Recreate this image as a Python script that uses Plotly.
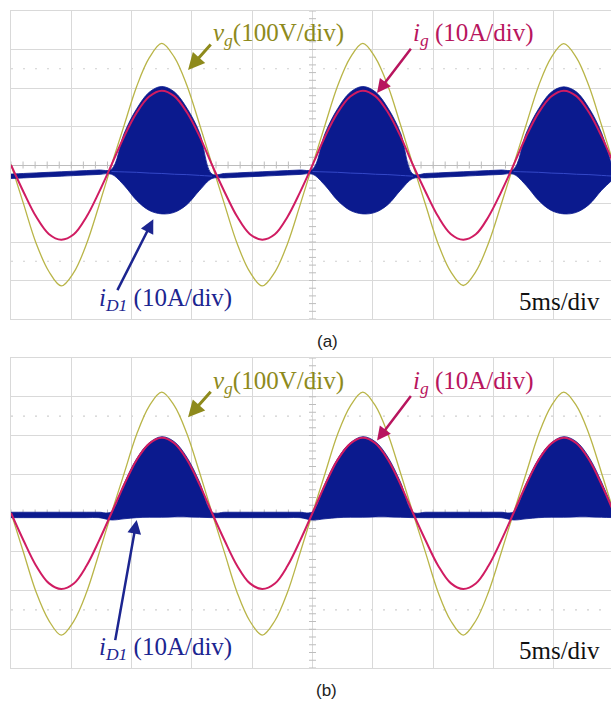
import plotly.graph_objects as go

# Sample instants (ms): 16 samples per mains period, 5 ms per horizontal division
TIME_MS = [0.00, 1.04, 2.08, 3.13, 4.17, 5.21, 6.25, 7.29, 8.33, 9.38, 10.42, 11.46,
           12.50, 13.54, 14.58, 15.63, 16.67, 17.71, 18.75, 19.79, 20.83, 21.88, 22.92, 23.96,
           25.00, 26.04, 27.08, 28.13, 29.17, 30.21, 31.25, 32.29, 33.33, 34.38, 35.42, 36.46,
           37.50, 38.54, 39.58, 40.63, 41.67, 42.71, 43.75, 44.79, 45.83, 46.88, 47.92, 48.96, 50.00]

# ---- (a) ----
VG_A = [2, -101, -203, -276, -314, -279, -206, -106,
        0, 103, 204, 278, 316, 280, 207, 106,
        1, -103, -204, -277, -314, -278, -205, -105,
        0, 104, 205, 279, 316, 279, 206, 105,
        0, -104, -205, -277, -313, -277, -204, -104,
        0, 104, 206, 279, 315, 279, 205, 104, 0]
IG_A = [0, -7.0, -13.4, -17.9, -19.4, -18.0, -13.5, -7.1,
        0, 7.4, 13.6, 17.8, 19.3, 17.9, 13.7, 7.5,
        0, -7.0, -13.4, -17.9, -19.4, -18.0, -13.5, -7.1,
        0, 7.4, 13.6, 17.8, 19.3, 17.9, 13.7, 7.5,
        0, -7.0, -13.4, -17.9, -19.4, -18.0, -13.5, -7.1,
        0, 7.4, 13.6, 17.8, 19.3, 17.9, 13.7, 7.5, 0]
ID1_HI_A = [-2.35, -2.2, -2.05, -1.9, -1.75, -1.6, -1.45, -1.3,
            -1.1, 8.2, 14.6, 18.9, 20.4, 19.0, 14.8, 8.4,
            -2.35, -2.2, -2.05, -1.9, -1.75, -1.6, -1.45, -1.3,
            -1.1, 8.2, 14.6, 18.9, 20.4, 19.0, 14.8, 8.4,
            -2.35, -2.2, -2.05, -1.9, -1.75, -1.6, -1.45, -1.3,
            -1.1, 8.2, 14.6, 18.9, 20.3, 19.0, 14.8, 8.4, -2.35]
ID1_LO_A = [-3.5, -3.35, -3.2, -3.05, -2.9, -2.75, -2.6, -2.45,
            -2.4, -5.3, -9.2, -11.8, -12.7, -12.3, -10.3, -6.6,
            -3.5, -3.35, -3.2, -3.05, -2.9, -2.75, -2.6, -2.45,
            -2.4, -5.3, -9.2, -11.8, -12.7, -12.3, -10.3, -6.6,
            -3.5, -3.35, -3.2, -3.05, -2.9, -2.75, -2.6, -2.45,
            -2.4, -5.3, -9.2, -11.8, -12.7, -12.3, -10.3, -6.6, -3.5]
ID1_MID_A = [None] * 8 + [-1.7, -1.8, -1.9, -2.1, -2.2, -2.4, -2.5, -2.7, -2.9] + \
            [None] * 7 + [-1.7, -1.8, -1.9, -2.1, -2.2, -2.4, -2.5, -2.7, -2.9] + \
            [None] * 7 + [-1.7, -1.8, -1.9, -2.1, -2.2, -2.4, -2.5, -2.7, -2.9]

# ---- (b) ----
VG_B = [1, -102, -204, -277, -315, -279, -206, -105,
        0, 102, 203, 276, 312, 277, 205, 105,
        0, -103, -205, -278, -315, -278, -205, -104,
        0, 102, 203, 276, 312, 277, 204, 104,
        0, -103, -205, -278, -315, -278, -205, -104,
        0, 102, 203, 276, 312, 277, 204, 104, 0]
IG_B = [0, -7.1, -13.6, -18.1, -19.6, -18.2, -13.7, -7.2,
        0, 7.3, 13.7, 17.9, 19.4, 18.0, 13.8, 7.4,
        0, -7.1, -13.6, -18.1, -19.6, -18.2, -13.7, -7.2,
        0, 7.3, 13.7, 17.9, 19.4, 18.0, 13.8, 7.4,
        0, -7.1, -13.6, -18.1, -19.6, -18.2, -13.7, -7.2,
        0, 7.3, 13.7, 17.9, 19.4, 18.0, 13.8, 7.4, 0]
ID1_HI_B = [0.2, 0.2, 0.2, 0.2, 0.2, 0.2, 0.2, 0.2,
            0.3, 7.6, 14.0, 18.1, 19.7, 18.4, 14.4, 8.0,
            0.2, 0.2, 0.2, 0.2, 0.2, 0.2, 0.2, 0.2,
            0.3, 7.6, 14.0, 18.1, 19.7, 18.4, 14.4, 8.0,
            0.2, 0.2, 0.2, 0.2, 0.2, 0.2, 0.2, 0.2,
            0.3, 7.6, 14.0, 18.1, 19.7, 18.4, 14.4, 8.0, 0.2]
ID1_LO_B = [-1.2, -1.2, -1.2, -1.2, -1.2, -1.2, -1.2, -1.2,
            -1.8, -1.5, -1.2, -1.1, -1.1, -1.0, -1.0, -1.1,
            -1.2, -1.2, -1.2, -1.2, -1.2, -1.2, -1.2, -1.2,
            -1.8, -1.5, -1.2, -1.1, -1.1, -1.0, -1.0, -1.1,
            -1.2, -1.2, -1.2, -1.2, -1.2, -1.2, -1.2, -1.2,
            -1.8, -1.5, -1.2, -1.1, -1.1, -1.0, -1.0, -1.1, -1.2]

# scope screen
T_SPAN = 49.75          # visible time window (ms)
V_RANGE = [-400, 400]   # 100 V/div, 8 divisions
I_RANGE = [-40, 40]     # 10 A/div, 8 divisions

NAVY = "#0b1a8e"
NAVY_LINE = "#3448c8"
CRIMSON = "#d01c62"
OLIVE = "#b9b548"
OLIVE_TXT = "#8e8a1c"
CRIMSON_TXT = "#b8155e"
NAVY_TXT = "#1c2590"
GRID = "#d9d9d9"
CENTER = "#bdbdbd"
SERIF = "Liberation Serif, Times New Roman, serif"

W, H = 611, 701
fig = go.Figure()


def panel(xa, yv, yi, vg, ig, hi, lo, mid):
    xs = "x" if xa == 1 else f"x{xa}"
    vs = "y" if yv == 1 else f"y{yv}"
    is_ = f"y{yi}"
    common = dict(mode="lines", showlegend=False, hoverinfo="skip", xaxis=xs)
    fig.add_trace(go.Scatter(x=TIME_MS, y=lo, yaxis=is_,
                             line=dict(width=0.8, color=NAVY, shape="spline"), **common))
    fig.add_trace(go.Scatter(x=TIME_MS, y=hi, yaxis=is_, fill="tonexty", fillcolor=NAVY,
                             line=dict(width=0.8, color=NAVY, shape="spline"), **common))
    if mid is not None:
        fig.add_trace(go.Scatter(x=TIME_MS, y=mid, yaxis=is_, connectgaps=False,
                                 line=dict(width=1, color=NAVY_LINE, shape="spline"), **common))
    fig.add_trace(go.Scatter(x=TIME_MS, y=ig, yaxis=is_,
                             line=dict(width=2, color=CRIMSON, shape="spline"), **common))
    fig.add_trace(go.Scatter(x=TIME_MS, y=vg, yaxis=vs,
                             line=dict(width=1.3, color=OLIVE, shape="spline"), **common))
    # minor ticks on the centre cross of the graticule
    hx = [i * 1.0 for i in range(0, 50)]
    fig.add_trace(go.Scatter(x=hx, y=[0] * len(hx), yaxis=vs, mode="markers", xaxis=xs,
                             marker=dict(symbol="line-ns", size=5, line=dict(width=1, color=CENTER)),
                             showlegend=False, hoverinfo="skip"))
    vy = [-400 + 20 * i for i in range(41)]
    fig.add_trace(go.Scatter(x=[25] * len(vy), y=vy, yaxis=vs, mode="markers", xaxis=xs,
                             marker=dict(symbol="line-ew", size=5, line=dict(width=1, color=CENTER)),
                             showlegend=False, hoverinfo="skip"))


panel(1, 1, 3, VG_A, IG_A, ID1_HI_A, ID1_LO_A, ID1_MID_A)
panel(2, 2, 4, VG_B, IG_B, ID1_HI_B, ID1_LO_B, None)

# pixel layout of the two scope screens
LEFT = 11 / W
DOM_A = [1 - 319 / H, 1 - 11 / H]
DOM_B = [1 - 668 / H, 1 - 358 / H]

xcommon = dict(range=[0, T_SPAN], dtick=5, tick0=0, showgrid=True, gridcolor=GRID, gridwidth=1,
               zeroline=False, showticklabels=False, ticks="", showline=True, mirror=True,
               linecolor=GRID, linewidth=1, fixedrange=True)
vcommon = dict(range=V_RANGE, dtick=100, tick0=0, showgrid=True, gridcolor=GRID, gridwidth=1,
               zeroline=True, zerolinecolor=CENTER, zerolinewidth=1, showticklabels=False,
               ticks="", showline=True, mirror=False, linecolor=GRID, linewidth=1, fixedrange=True)
icommon = dict(range=I_RANGE, showgrid=False, zeroline=False, showticklabels=False,
               visible=False, fixedrange=True)

fig.update_layout(
    width=W, height=H, margin=dict(l=0, r=0, t=0, b=0),
    paper_bgcolor="white", plot_bgcolor="white", showlegend=False,
    xaxis=dict(domain=[LEFT, 1], anchor="y", **xcommon),
    xaxis2=dict(domain=[LEFT, 1], anchor="y2", **xcommon),
    yaxis=dict(domain=DOM_A, anchor="x", **vcommon),
    yaxis2=dict(domain=DOM_B, anchor="x2", **vcommon),
    yaxis3=dict(domain=DOM_A, overlaying="y", anchor="x", **icommon),
    yaxis4=dict(domain=DOM_B, overlaying="y2", anchor="x2", **icommon),
)

# dotted graticule lines at +/- 2.5 div and the centre vertical line
shapes = []
for xr, yr in (("x", "y"), ("x2", "y2")):
    for yv in (250, -250):
        shapes.append(dict(type="line", xref=xr, yref=yr, x0=0, x1=T_SPAN, y0=yv, y1=yv,
                           layer="below", line=dict(color="#cfcfcf", width=1.2, dash="2px,10px")))
    shapes.append(dict(type="line", xref=xr, yref=yr, x0=25, x1=25, y0=-400, y1=400,
                       layer="below", line=dict(color=CENTER, width=1)))
fig.update_layout(shapes=shapes)

ann = []


def label(text, x, y, xr, yr, color, anchor="left"):
    ann.append(dict(text=text, x=x, y=y, xref=xr, yref=yr, xanchor=anchor, yanchor="middle",
                    showarrow=False, font=dict(family=SERIF, size=25, color=color)))


def arrow(x, y, ax, ay, xr, yr, color, width):
    ann.append(dict(text="", x=x, y=y, ax=ax, ay=ay, xref=xr, yref=yr, axref=xr, ayref=yr,
                    showarrow=True, arrowhead=2, arrowsize=1.1, arrowwidth=width,
                    arrowcolor=color))


for xr, yv, yi, off in (("x", "y", "y3", 0.0), ("x2", "y2", "y4", 0.0)):
    label("<i>v</i><sub><i>g</i></sub>(100V/div)", 16.58, 338, xr, yv, OLIVE_TXT)
    label("<i>i</i><sub><i>g</i></sub> (10A/div)", 33.17, 33.8, xr, yi, CRIMSON_TXT)
    label("<i>i</i><sub><i>D1</i></sub> (10A/div)", 7.13, -35.0, xr, yi, NAVY_TXT)
    label("5ms/div", 41.96, -355, xr, yv, "#111111")
    arrow(14.68, 247, 16.67, 317, xr, yv, OLIVE_TXT, 3)
    arrow(30.35, 18.7, 33.25, 30.6, xr, yi, CRIMSON_TXT, 2.5)

arrow(11.8, -14.1, 8.76, -32.9, "x", "y3", NAVY_TXT, 2.5)
arrow(10.42, -1.8, 8.62, -33.2, "x2", "y4", NAVY_TXT, 2.5)

ann.append(dict(text="(a)", x=327 / W, y=1 - 341 / H, xref="paper", yref="paper",
                xanchor="center", yanchor="middle", showarrow=False,
                font=dict(family="Liberation Sans, Arial, sans-serif", size=17, color="#222222")))
ann.append(dict(text="(b)", x=326 / W, y=1 - 690 / H, xref="paper", yref="paper",
                xanchor="center", yanchor="middle", showarrow=False,
                font=dict(family="Liberation Sans, Arial, sans-serif", size=17, color="#222222")))
fig.update_layout(annotations=ann)

fig.write_html("out.html")
